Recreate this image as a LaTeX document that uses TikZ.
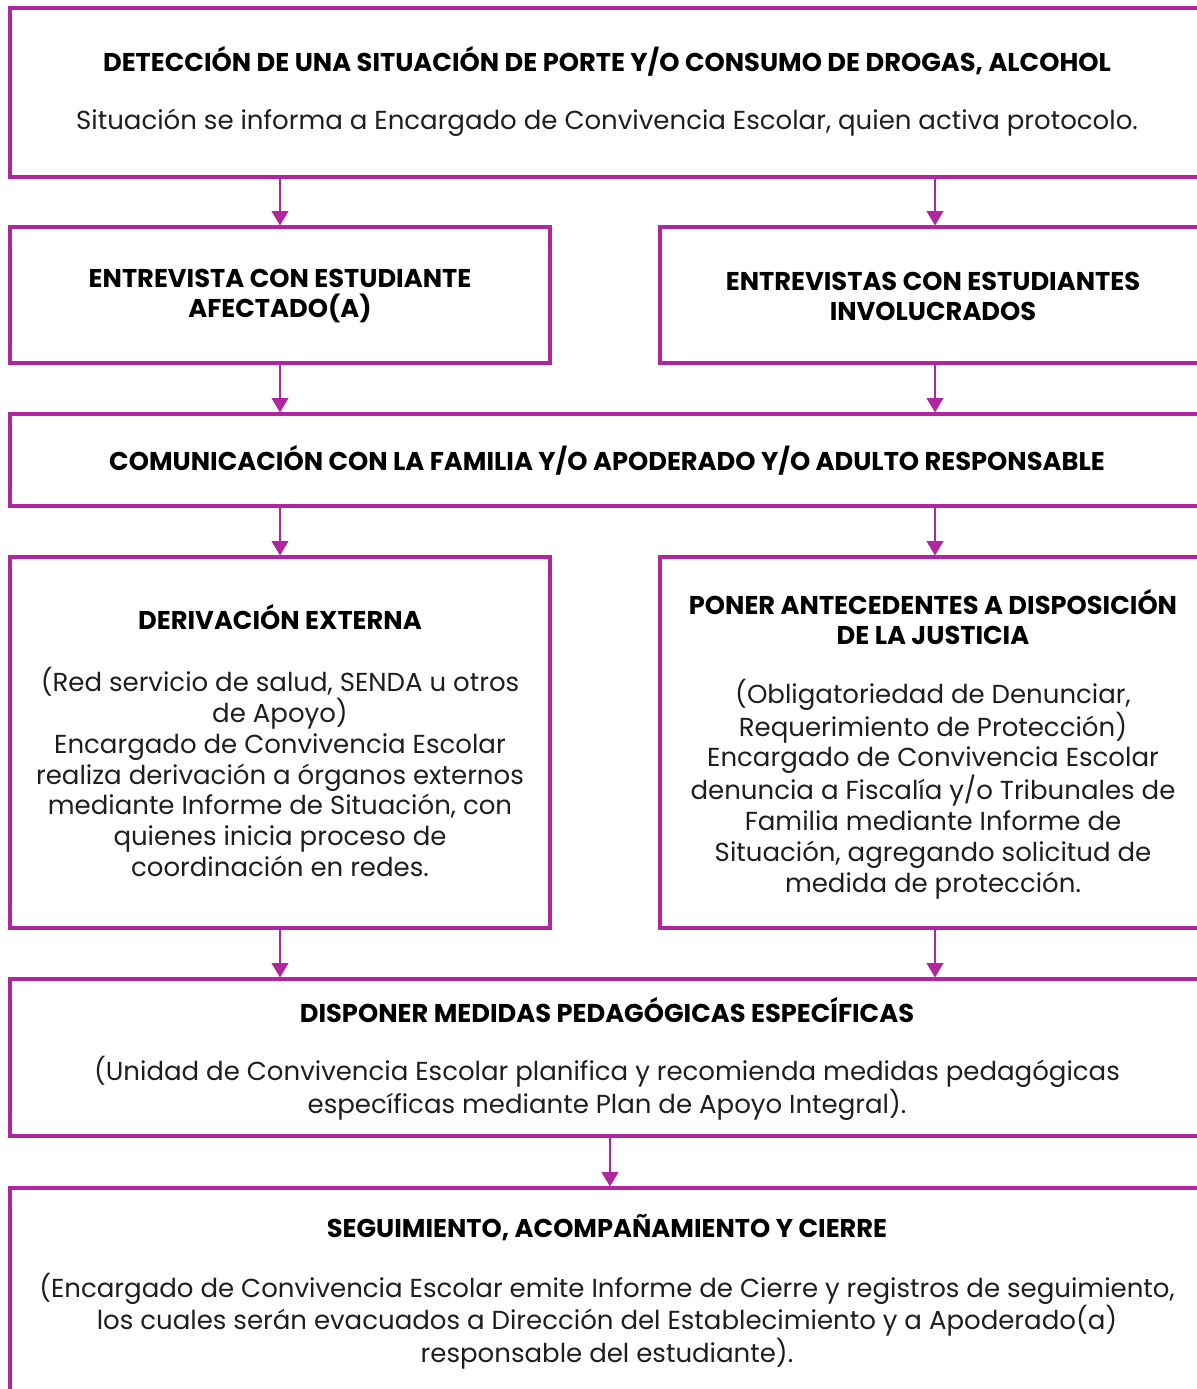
\documentclass[tikz,border=0pt]{standalone}
\usepackage{fontspec}
\setmainfont{Poppins}
\usepackage{xcolor}
\definecolor{magenta}{RGB}{176,38,158}
\definecolor{tinta}{RGB}{30,30,30}
\usetikzlibrary{
  arrows.meta,
  fit
}

\begin{document}
\begin{tikzpicture}[x=0.025cm, y=-0.025cm,
  caja/.style = {draw=magenta, line width=2.2pt, inner sep=0pt},
  titulo/.style = {align=center, inner sep=0pt, text=black,
    font=\fontsize{18.3}{21.3}\selectfont\bfseries},
  texto/.style = {align=center, inner sep=0pt, text=tinta,
    font=\fontsize{18.5}{21.9}\selectfont},
  flecha/.style = {draw=magenta, line width=1pt,
    -{Triangle[width=0.42cm,length=0.36cm]}}]
  \useasboundingbox (0,0) rectangle (1197,1389);
  \clip (0,0) rectangle (1197,1389);

  % cajas
  \node[caja, fit={(10,8) (1210,177)}] (det) {};
  \node[caja, fit={(10,227) (550,363)}] (entL) {};
  \node[caja, fit={(660,227) (1210,363)}] (entR) {};
  \node[caja, fit={(10,414) (1210,506)}] (com) {};
  \node[caja, fit={(10,557) (550,928)}] (der) {};
  \node[caja, fit={(660,557) (1210,928)}] (jus) {};
  \node[caja, fit={(10,979) (1210,1136)}] (med) {};
  \node[caja, fit={(10,1188) (1210,1420)}] (seg) {};

  % textos
  \node[titulo] (detT) at (607,61) {DETECCIÓN DE UNA SITUACIÓN DE PORTE Y/O CONSUMO DE DROGAS, ALCOHOL};
  \node[texto] (detX) at (607,123) {Situación se informa a Encargado de Convivencia Escolar, quien activa protocolo.};
  \node[titulo] (entLT) at (280,296) {ENTREVISTA CON ESTUDIANTE\\AFECTADO(A)};
  \node[titulo] (entRT) at (933,296) {ENTREVISTAS CON ESTUDIANTES\\INVOLUCRADOS};
  \node[titulo] (comT) at (607,460) {COMUNICACIÓN CON LA FAMILIA Y/O APODERADO Y/O ADULTO RESPONSABLE};
  \node[titulo] (derT) at (280,617) {DERIVACIÓN EXTERNA};
  \node[texto] (derX) at (280,772) {(Red servicio de salud, SENDA u otros\\de Apoyo)\\Encargado de Convivencia Escolar\\realiza derivación a órganos externos\\mediante Informe de Situación, con\\quienes inicia proceso de\\coordinación en redes.};
  \node[titulo] (jusT) at (933,617) {PONER ANTECEDENTES A DISPOSICIÓN\\DE LA JUSTICIA};
  \node[texto] (jusX) at (933,789) {(Obligatoriedad de Denunciar,\\Requerimiento de Protección)\\Encargado de Convivencia Escolar\\denuncia a Fiscalía y/o Tribunales de\\Familia mediante Informe de\\Situación, agregando solicitud de\\medida de protección.};
  \node[titulo] (medT) at (607,1010) {DISPONER MEDIDAS PEDAGÓGICAS ESPECÍFICAS};
  \node[texto] (medX) at (607,1088) {(Unidad de Convivencia Escolar planifica y recomienda medidas pedagógicas\\específicas mediante Plan de Apoyo Integral).};
  \node[titulo] (segT) at (607,1228) {SEGUIMIENTO, ACOMPAÑAMIENTO Y CIERRE};
  \node[texto] (segX) at (607,1321) {(Encargado de Convivencia Escolar emite Informe de Cierre y registros de seguimiento,\\los cuales serán evacuados a Dirección del Establecimiento y a Apoderado(a)\\responsable del estudiante).};

  % flechas
  \draw[flecha] (entL.north |- det.south) -- (entL.north);
  \draw[flecha] (entR.north |- det.south) -- (entR.north);
  \draw[flecha] (entL.south) -- (entL.south |- com.north);
  \draw[flecha] (entR.south) -- (entR.south |- com.north);
  \draw[flecha] (der.north |- com.south) -- (der.north);
  \draw[flecha] (jus.north |- com.south) -- (jus.north);
  \draw[flecha] (der.south) -- (der.south |- med.north);
  \draw[flecha] (jus.south) -- (jus.south |- med.north);
  \draw[flecha] (med.south) -- (seg.north);
\end{tikzpicture}
\end{document}
